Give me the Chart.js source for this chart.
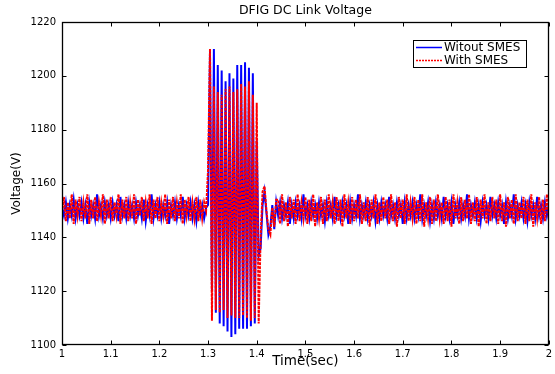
<!DOCTYPE html>
<html>
<head>
<meta charset="utf-8">
<script src="https://cdn.jsdelivr.net/npm/chart.js@4"></script>
<style>
body { margin: 0; background: #fff; }
#wrap { width: 555px; height: 374px; }
</style>
</head>
<body>
<div id="wrap"><canvas id="myChart" width="555" height="374"></canvas></div>
<script>
const chartTitle = "DFIG DC Link Voltage";
const seriesNames = ["Witout SMES", "With SMES"];
const timeTicks = [1, 1.1, 1.2, 1.3, 1.4, 1.5, 1.6, 1.7, 1.8, 1.9, 2];
const voltTicks = [1100, 1120, 1140, 1160, 1180, 1200, 1220];
const startTime = 1;
const sampleStep = 0.004;

// Witout SMES (blue), t = 1.000 .. 1.296
const withoutPre = [
1151,1148,1153,1147,1152,1148,1154,1147,1152,1148,
1153,1147,1152,1145,1153,1148,1152,1147,1156,1148,
1152,1147,1153,1148,1152,1147,1153,1148,1152,1146,
1155,1148,1152,1147,1153,1148,1152,1147,1153,1148,
1152,1147,1154,1146,1152,1148,1156,1147,1152,1148,
1153,1147,1152,1148,1153,1145,1152,1148,1153,1147,
1152,1148,1155,1147,1152,1148,1153,1147,1152,1146,
1153,1148,1152,1147,1151];
// t = 1.300 .. 1.440 (fault and recovery)
const withoutFault = [
1152,1209,1120,1210,1112,1204,1108,1202,1107,1198,
1105,1201,1103,1199,1104,1204,1106,1204,1106,1205,
1106,1203,1107,1201,1108,1176,1133,1136,1152,1157,
1149,1141,1144,1152,1143,1153];
// t = 1.444 .. 2.000
const withoutPost = [
1148,1153,1147,1152,1148,1153,1145,1152,1147,1153,
1148,1152,1147,1156,1148,1152,1147,1153,1148,1152,
1147,1153,1148,1152,1146,1153,1148,1152,1147,1155,
1148,1152,1147,1153,1148,1152,1145,1153,1147,1152,
1148,1156,1147,1152,1148,1153,1147,1152,1148,1153,
1146,1152,1147,1153,1148,1152,1147,1155,1148,1152,
1147,1153,1148,1152,1145,1153,1147,1152,1148,1153,
1147,1152,1148,1156,1147,1152,1148,1153,1146,1152,
1147,1153,1148,1152,1147,1155,1148,1152,1147,1153,
1145,1152,1148,1153,1147,1152,1148,1156,1147,1152,
1148,1153,1147,1152,1146,1153,1148,1152,1147,1155,
1148,1152,1147,1153,1148,1152,1145,1153,1147,1152,
1148,1156,1147,1152,1148,1153,1147,1152,1146,1153,
1148,1152,1147,1155,1148,1152,1147,1153,1148,1152];

// With SMES (red)
const withPre = [
1149,1155,1146,1153,1147,1156,1145,1154,1148,1155,
1146,1153,1147,1156,1145,1154,1147,1155,1146,1153,
1148,1156,1145,1154,1147,1155,1146,1153,1148,1156,
1145,1154,1147,1155,1146,1153,1147,1156,1145,1154,
1148,1155,1146,1153,1147,1156,1145,1154,1147,1155,
1146,1153,1148,1156,1145,1154,1147,1155,1146,1153,
1147,1156,1145,1154,1148,1155,1146,1153,1147,1155,
1146,1154,1147,1153,1150];
const withFault = [
1165,1210,1109,1196,1113,1194,1112,1193,1113,1195,
1110,1196,1111,1194,1110,1195,1110,1197,1111,1196,
1110,1198,1109,1193,1110,1190,1108,1140,1157,1159,
1150,1143,1141,1151,1144,1154];
const withPost = [
1154,1145,1156,1146,1153,1144,1155,1147,1154,1145,
1156,1146,1153,1147,1155,1145,1154,1146,1156,1144,
1153,1147,1155,1145,1154,1146,1156,1147,1153,1145,
1155,1146,1154,1144,1156,1147,1153,1145,1155,1146,
1154,1147,1156,1145,1153,1146,1155,1144,1154,1147,
1156,1145,1153,1146,1155,1147,1154,1145,1156,1146,
1153,1144,1155,1147,1154,1145,1156,1146,1153,1147,
1155,1145,1154,1146,1156,1144,1153,1147,1155,1145,
1154,1146,1156,1147,1153,1145,1155,1146,1154,1144,
1156,1147,1153,1145,1155,1146,1154,1147,1156,1145,
1153,1146,1155,1144,1154,1147,1156,1145,1153,1146,
1155,1147,1154,1145,1156,1146,1153,1144,1155,1147,
1154,1145,1156,1146,1153,1147,1155,1145,1154,1146,
1156,1144,1153,1147,1155,1145,1154,1146,1156,1147];

const withoutSmes = withoutPre.concat(withoutFault, withoutPost);
const withSmes = withPre.concat(withFault, withPost);
const times = withoutSmes.map((v, i) => +(startTime + i * sampleStep).toFixed(3));
const toPoints = vals => vals.map((v, i) => ({x: times[i], y: v}));

const FONT = "'DejaVu Sans', sans-serif";
const BLUE = "#0000ff";
const RED = "#ff0000";
Chart.defaults.font.family = FONT;
Chart.defaults.color = "#000";

// title, box frame with inward ticks, and the legend box
const matlabFrame = {
    id: "matlabFrame",
    afterDraw(chart) {
        const ctx = chart.ctx;
        const a = chart.chartArea;
        const xs = chart.scales.x;
        const ys = chart.scales.y;
        const L = Math.round(a.left) + 0.5, R = Math.round(a.right) - 0.5;
        const T = Math.round(a.top) + 0.5, B = Math.round(a.bottom) - 0.5;
        ctx.save();
        ctx.strokeStyle = "#000";
        ctx.lineWidth = 1.3;
        ctx.strokeRect(L, T, R - L, B - T);
        ctx.lineWidth = 1;
        ctx.beginPath();
        timeTicks.forEach(t => {
            const px = Math.round(xs.getPixelForValue(t)) + 0.5;
            ctx.moveTo(px, B); ctx.lineTo(px, B - 4);
            ctx.moveTo(px, T); ctx.lineTo(px, T + 4);
        });
        voltTicks.forEach(v => {
            const py = Math.round(ys.getPixelForValue(v)) + 0.5;
            ctx.moveTo(L, py); ctx.lineTo(L + 4, py);
            ctx.moveTo(R, py); ctx.lineTo(R - 4, py);
        });
        ctx.stroke();

        ctx.fillStyle = "#000";
        ctx.font = "12.5px " + FONT;
        ctx.textAlign = "center";
        ctx.textBaseline = "middle";
        ctx.fillText(chartTitle, (a.left + a.right) / 2, 11);

        // legend
        const bx = 413.5, by = 40.5, bw = 113, bh = 27;
        ctx.fillStyle = "#fff";
        ctx.fillRect(bx, by, bw, bh);
        ctx.strokeStyle = "#000";
        ctx.strokeRect(bx, by, bw, bh);
        ctx.font = "12px " + FONT;
        ctx.textAlign = "left";
        [BLUE, RED].forEach((col, k) => {
            const y = 47 + k * 12.5;
            ctx.strokeStyle = col;
            ctx.lineWidth = 1.5;
            ctx.setLineDash(k === 1 ? [2, 1] : []);
            ctx.beginPath();
            ctx.moveTo(416, Math.round(y) + 0.5);
            ctx.lineTo(442, Math.round(y) + 0.5);
            ctx.stroke();
            ctx.fillStyle = "#000";
            ctx.fillText(seriesNames[k], 444, y + 1);
        });
        ctx.restore();
    }
};

const config = {
    type: "line",
    data: {
        datasets: [{
            label: seriesNames[0],
            data: toPoints(withoutSmes),
            borderColor: BLUE,
            borderWidth: 2,
            pointRadius: 0,
            order: 1
        }, {
            label: seriesNames[1],
            data: toPoints(withSmes),
            borderColor: RED,
            borderWidth: 2,
            borderDash: [3, 1],
            pointRadius: 0,
            order: 0
        }]
    },
    options: {
        responsive: false,
        animation: false,
        devicePixelRatio: 1,
        layout: { padding: { left: 6, top: 22, right: 3, bottom: 0 } },
        plugins: {
            legend: { display: false },
            title: { display: false },
            tooltip: { enabled: false }
        },
        scales: {
            x: {
                type: "linear",
                min: 1,
                max: 2,
                grid: { display: false, drawTicks: false },
                border: { display: false },
                afterBuildTicks: s => { s.ticks = timeTicks.map(v => ({ value: v })); },
                afterFit: s => { s.height = 29; },
                ticks: {
                    autoSkip: false,
                    maxRotation: 0,
                    padding: 3,
                    font: { size: 10 },
                    callback: v => String(+v.toFixed(1))
                },
                title: {
                    display: true,
                    text: "Time(sec)",
                    font: { size: 13.5 },
                    padding: { top: 0, bottom: 4 }
                }
            },
            y: {
                min: 1100,
                max: 1220,
                grid: { display: false, drawTicks: false },
                border: { display: false },
                afterBuildTicks: s => { s.ticks = voltTicks.map(v => ({ value: v })); },
                afterFit: s => { s.width = 56; },
                ticks: {
                    padding: 6,
                    font: { size: 10 },
                    callback: v => String(v)
                },
                title: {
                    display: true,
                    text: "Voltage(V)",
                    font: { size: 12 },
                    padding: { top: 4, bottom: 0 }
                }
            }
        }
    },
    plugins: [matlabFrame]
};

new Chart("myChart", config);
</script>
</body>
</html>
